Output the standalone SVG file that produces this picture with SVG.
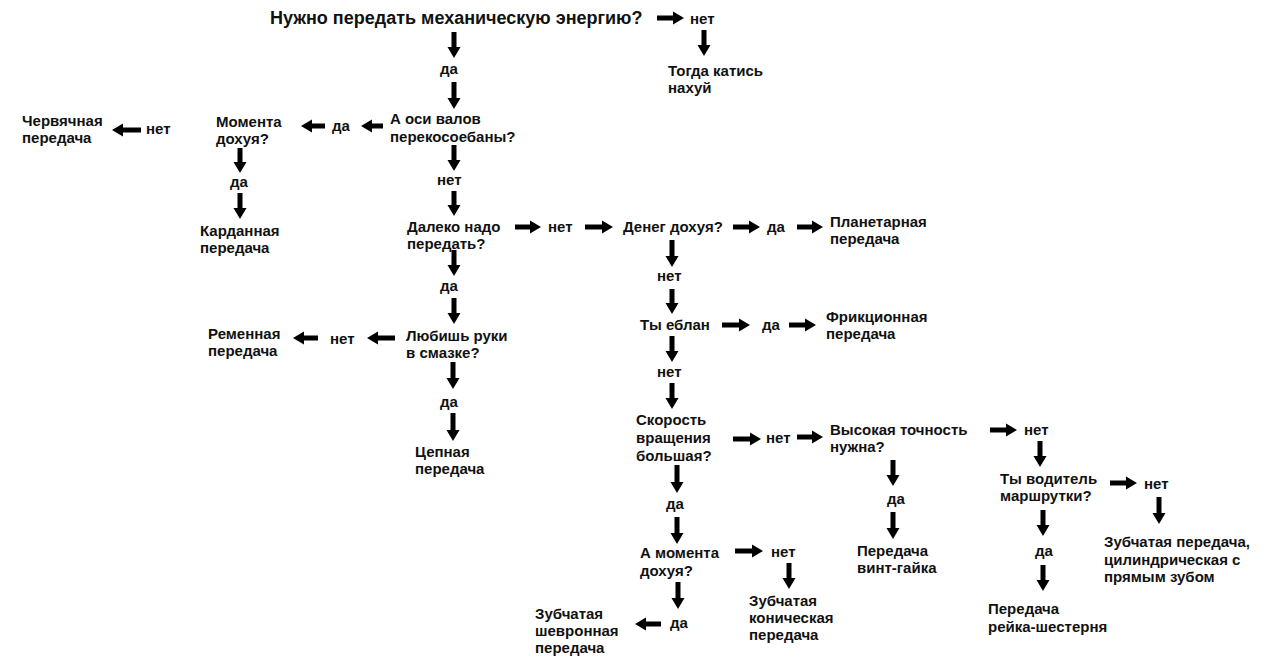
<svg xmlns="http://www.w3.org/2000/svg" width="1280" height="672" viewBox="0 0 1280 672">
<style>
text{font-family:"Liberation Sans",Arial,sans-serif;font-size:15px;font-weight:bold;fill:#111}
.t{font-size:18px}
.c line{stroke:#000;stroke-width:5;marker-end:url(#ah)}
</style>
<defs><marker id="ah" markerUnits="userSpaceOnUse" markerWidth="12" markerHeight="14" viewBox="0 -7 12 14" refX="0" refY="0" orient="auto"><path d="M0,-6.5 L11,0 L0,6.5Z" fill="#000"/></marker></defs>
<rect width="1280" height="672" fill="#fff"/>
<g class="c" id="connectors">
<line x1="657" y1="18" x2="673" y2="18"/>
<line x1="704" y1="30" x2="704" y2="45"/>
<line x1="454" y1="32" x2="454" y2="47"/>
<line x1="454" y1="82" x2="454" y2="98"/>
<line x1="383" y1="126" x2="372" y2="126"/>
<line x1="325" y1="126" x2="312" y2="126"/>
<line x1="141" y1="130" x2="123" y2="130"/>
<line x1="240" y1="148" x2="240" y2="162"/>
<line x1="240" y1="193" x2="240" y2="208"/>
<line x1="454" y1="145" x2="454" y2="160"/>
<line x1="454" y1="191" x2="454" y2="205"/>
<line x1="515" y1="227" x2="530" y2="227"/>
<line x1="585" y1="227" x2="602" y2="227"/>
<line x1="733" y1="227" x2="749" y2="227"/>
<line x1="797" y1="227" x2="812" y2="227"/>
<line x1="672" y1="240" x2="672" y2="256"/>
<line x1="672" y1="289" x2="672" y2="303"/>
<line x1="722" y1="325" x2="739" y2="325"/>
<line x1="789" y1="325" x2="805" y2="325"/>
<line x1="672" y1="336" x2="672" y2="351"/>
<line x1="672" y1="383" x2="672" y2="398"/>
<line x1="733" y1="439" x2="750" y2="439"/>
<line x1="797" y1="437" x2="812" y2="437"/>
<line x1="893" y1="460" x2="893" y2="475"/>
<line x1="893" y1="512" x2="893" y2="528"/>
<line x1="990" y1="430" x2="1006" y2="430"/>
<line x1="1040" y1="441" x2="1040" y2="456"/>
<line x1="1110" y1="483" x2="1126" y2="483"/>
<line x1="1159" y1="497" x2="1159" y2="513"/>
<line x1="1043" y1="510" x2="1043" y2="525"/>
<line x1="1043" y1="565" x2="1043" y2="580"/>
<line x1="454" y1="250" x2="454" y2="265"/>
<line x1="454" y1="298" x2="454" y2="313"/>
<line x1="395" y1="338" x2="378" y2="338"/>
<line x1="318" y1="338" x2="304" y2="338"/>
<line x1="453" y1="362" x2="453" y2="378"/>
<line x1="453" y1="413" x2="453" y2="430"/>
<line x1="677" y1="465" x2="677" y2="482"/>
<line x1="677" y1="517" x2="677" y2="533"/>
<line x1="735" y1="551" x2="752" y2="551"/>
<line x1="789" y1="563" x2="789" y2="578"/>
<line x1="678" y1="582" x2="678" y2="598"/>
<line x1="661" y1="624" x2="646" y2="624"/>
</g>
<g id="n-title"><text class="t" x="270" y="24">Нужно передать механическую энергию?</text></g>
<g id="n1"><text x="690" y="24">нет</text></g>
<g id="n2"><text x="668" y="76">Тогда катись</text><text x="668" y="93">нахуй</text></g>
<g id="n3"><text x="440" y="74">да</text></g>
<g id="n4"><text x="390" y="124">А  оси валов</text><text x="390" y="142">перекосоебаны?</text></g>
<g id="n5"><text x="332" y="131">да</text></g>
<g id="n6"><text x="216" y="127">Момента</text><text x="216" y="144">дохуя?</text></g>
<g id="n7"><text x="146" y="134">нет</text></g>
<g id="n8"><text x="22" y="126">Червячная</text><text x="22" y="143">передача</text></g>
<g id="n9"><text x="230" y="187">да</text></g>
<g id="n10"><text x="200" y="236">Карданная</text><text x="200" y="253">передача</text></g>
<g id="n11"><text x="437" y="185">нет</text></g>
<g id="n12"><text x="407" y="232">Далеко надо</text><text x="407" y="249">передать?</text></g>
<g id="n13"><text x="548" y="232">нет</text></g>
<g id="n14"><text x="623" y="232">Денег дохуя?</text></g>
<g id="n15"><text x="767" y="232">да</text></g>
<g id="n16"><text x="830" y="227">Планетарная</text><text x="830" y="244">передача</text></g>
<g id="n17"><text x="657" y="281">нет</text></g>
<g id="n18"><text x="640" y="330">Ты еблан</text></g>
<g id="n19"><text x="762" y="330">да</text></g>
<g id="n20"><text x="826" y="322">Фрикционная</text><text x="826" y="339">передача</text></g>
<g id="n21"><text x="657" y="377">нет</text></g>
<g id="n22"><text x="636" y="425">Скорость</text><text x="636" y="443">вращения</text><text x="636" y="461">большая?</text></g>
<g id="n23"><text x="766" y="443">нет</text></g>
<g id="n24"><text x="830" y="435">Высокая точность</text><text x="830" y="452">нужна?</text></g>
<g id="n25"><text x="887" y="504">да</text></g>
<g id="n26"><text x="857" y="556">Передача</text><text x="857" y="573">винт-гайка</text></g>
<g id="n27"><text x="1024" y="435">нет</text></g>
<g id="n28"><text x="1000" y="484">Ты водитель</text><text x="1000" y="501">маршрутки?</text></g>
<g id="n29"><text x="1144" y="489">нет</text></g>
<g id="n30"><text x="1104" y="547">Зубчатая передача,</text><text x="1104" y="565">цилиндрическая с</text><text x="1104" y="582">прямым зубом</text></g>
<g id="n31"><text x="1035" y="556">да</text></g>
<g id="n32"><text x="988" y="614">Передача</text><text x="988" y="632">рейка-шестерня</text></g>
<g id="n33"><text x="440" y="291">да</text></g>
<g id="n34"><text x="406" y="341">Любишь руки</text><text x="406" y="358">в смазке?</text></g>
<g id="n35"><text x="330" y="344">нет</text></g>
<g id="n36"><text x="208" y="339">Ременная</text><text x="208" y="356">передача</text></g>
<g id="n37"><text x="440" y="407">да</text></g>
<g id="n38"><text x="415" y="457">Цепная</text><text x="415" y="474">передача</text></g>
<g id="n39"><text x="666" y="509">да</text></g>
<g id="n40"><text x="640" y="558">А момента</text><text x="640" y="576">дохуя?</text></g>
<g id="n41"><text x="771" y="557">нет</text></g>
<g id="n42"><text x="749" y="606">Зубчатая</text><text x="749" y="623">коническая</text><text x="749" y="640">передача</text></g>
<g id="n43"><text x="670" y="628">да</text></g>
<g id="n44"><text x="535" y="619">Зубчатая</text><text x="535" y="636">шевронная</text><text x="535" y="653">передача</text></g>
</svg>
